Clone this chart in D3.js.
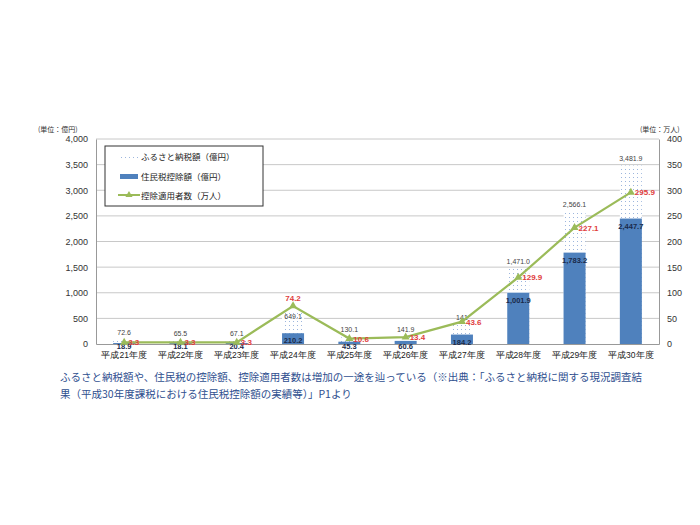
<!DOCTYPE html><html><head><meta charset="utf-8"><script src="https://cdn.jsdelivr.net/npm/d3@7"></script>
<style>body{margin:0;background:#fff;font-family:"Noto Sans CJK JP",sans-serif}</style></head><body><svg id="c" width="700" height="525"></svg>
<script>
const categories=["平成21年度","平成22年度","平成23年度","平成24年度","平成25年度","平成26年度","平成27年度","平成28年度","平成29年度","平成30年度"];
const furusato=[72.6,65.5,67.1,649.1,130.1,141.9,380,1471.0,2566.1,3481.9];
const furusatoLabels=["72.6","65.5","67.1","649.1","130.1","141.9","141","1,471.0","2,566.1","3,481.9"];
const koujo=[18.9,18.1,20.4,210.2,45.3,60.6,184.2,1001.9,1783.2,2447.7];
const people=[3.3,3.3,3.3,74.2,10.6,13.4,43.6,129.9,227.1,295.9];
const leftTicks=[0,500,1000,1500,2000,2500,3000,3500,4000];
const rightTicks=[0,50,100,150,200,250,300,350,400];
const svg=d3.select("#c");
const L=96,R=659,T=139,B=344;
const x=d3.scaleBand().domain(categories).range([L,R]);
const y=d3.scaleLinear().domain([0,4000]).range([B,T]);
const y2=d3.scaleLinear().domain([0,400]).range([B,T]);
const defs=svg.append("defs");
const p=defs.append("pattern").attr("id","dots").attr("width",4).attr("height",4).attr("patternUnits","userSpaceOnUse");
p.append("rect").attr("width",4).attr("height",4).attr("fill","#fff");
p.append("rect").attr("x",1).attr("y",1).attr("width",1).attr("height",1).attr("fill","#9db6dd");
const fmt=d3.format(",.1f");
svg.append("g").selectAll("line").data(leftTicks.slice(1)).join("line").attr("x1",L).attr("x2",R).attr("y1",d=>y(d)).attr("y2",d=>y(d)).attr("stroke","#c8c8c8");
const gl=svg.append("g").attr("transform",`translate(${L},0)`).call(d3.axisLeft(y).tickValues(leftTicks).tickFormat(d3.format(",")).tickSize(0).tickPadding(8));
const gr=svg.append("g").attr("transform",`translate(${R},0)`).call(d3.axisRight(y2).tickValues(rightTicks).tickSize(0).tickPadding(8));
[gl,gr].forEach(g=>{g.select(".domain").attr("stroke","#999");g.selectAll("text").attr("font-size",9).attr("fill","#333").attr("font-family","Liberation Sans, sans-serif");});
const gb=svg.append("g").attr("transform",`translate(0,${B})`).call(d3.axisBottom(x).tickSize(0).tickPadding(8));
gb.select(".domain").attr("stroke","#999");gb.selectAll("text").attr("font-size",8.5).attr("fill","#222");
svg.append("text").attr("x",38).attr("y",132).attr("font-size",7).attr("fill","#333").text("(単位：億円)");
svg.append("text").attr("x",640).attr("y",132).attr("font-size",7).attr("fill","#333").text("(単位：万人)");
const bw=22;
svg.append("g").selectAll("rect").data(furusato).join("rect").attr("x",(d,i)=>x(categories[i])+x.bandwidth()/2-bw/2).attr("width",bw).attr("y",d=>y(d)).attr("height",d=>B-y(d)).attr("fill","url(#dots)");
svg.append("g").selectAll("rect").data(koujo).join("rect").attr("x",(d,i)=>x(categories[i])+x.bandwidth()/2-bw/2).attr("width",bw).attr("y",d=>y(d)).attr("height",d=>B-y(d)).attr("fill","#4f81bd");
const cx=i=>x(categories[i])+x.bandwidth()/2;
svg.append("g").selectAll("text").data(furusatoLabels).join("text").attr("x",(d,i)=>cx(i)).attr("y",(d,i)=>i===3?y(furusato[i])+8:y(furusato[i])-5).attr("text-anchor","middle").attr("font-size",7).attr("fill","#444").attr("font-family","Liberation Sans, sans-serif").text(d=>d);
svg.append("g").selectAll("text").data(koujo).join("text").attr("x",(d,i)=>cx(i)).attr("y",(d,i)=>koujo[i]<100?B+5:y(d)+10).attr("text-anchor","middle").attr("font-size",7.5).attr("font-weight","bold").attr("fill","#1a2a4a").attr("font-family","Liberation Sans, sans-serif").text(d=>fmt(d));
const line=d3.line().x((d,i)=>cx(i)).y(d=>y2(d));
svg.append("path").datum(people).attr("d",line).attr("fill","none").attr("stroke","#9bbb59").attr("stroke-width",2.2);
svg.append("g").selectAll("path").data(people).join("path").attr("d",d3.symbol(d3.symbolTriangle,28)).attr("transform",(d,i)=>`translate(${cx(i)},${y2(d)})`).attr("fill","#9bbb59");
svg.append("g").selectAll("text").data(people).join("text").attr("x",(d,i)=>people[i]>50&&people[i]<100?cx(i):cx(i)+4).attr("y",(d,i)=>people[i]>50&&people[i]<100?y2(d)-5:y2(d)+3).attr("text-anchor",(d,i)=>people[i]>50&&people[i]<100?"middle":"start").attr("font-size",8).attr("font-weight","bold").attr("fill","#e03c3c").attr("font-family","Liberation Sans, sans-serif").text(d=>d.toFixed(1));
const lg=svg.append("g");
lg.append("rect").attr("x",105).attr("y",146).attr("width",158).attr("height",60).attr("fill","#fff").attr("stroke","#333");
lg.append("rect").attr("x",120).attr("y",154).attr("width",18).attr("height",5).attr("fill","url(#dots)");
lg.append("rect").attr("x",120).attr("y",174).attr("width",18).attr("height",5).attr("fill","#4f81bd");
lg.append("line").attr("x1",118).attr("x2",140).attr("y1",195).attr("y2",195).attr("stroke","#9bbb59").attr("stroke-width",2);
lg.append("path").attr("d",d3.symbol(d3.symbolTriangle,22)).attr("transform","translate(129,195)").attr("fill","#9bbb59");
[["ふるさと納税額（億円）",160],["住民税控除額（億円）",180],["控除適用者数（万人）",199]].forEach(([t,yy])=>lg.append("text").attr("x",141).attr("y",yy).attr("font-size",8.5).attr("fill","#222").text(t));
svg.append("text").attr("x",60).attr("y",381).attr("font-size",10.5).attr("fill","#2f4f8f").text("ふるさと納税額や、住民税の控除額、控除適用者数は増加の一途を辿っている（※出典：「ふるさと納税に関する現況調査結");
svg.append("text").attr("x",60).attr("y",398).attr("font-size",10.5).attr("fill","#2f4f8f").text("果（平成30年度課税における住民税控除額の実績等）」P1より");
</script></body></html>
